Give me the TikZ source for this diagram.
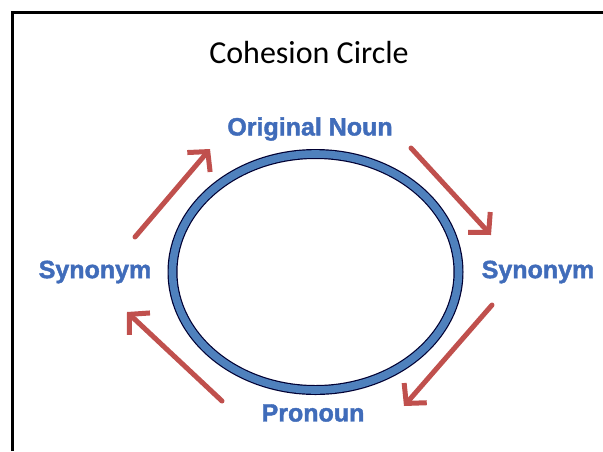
\documentclass[tikz,border=0pt]{standalone}
\usepackage{fontspec}
\setmainfont{Carlito}
\newfontfamily\labelfont[BoldFeatures={FakeBold=1.6}]{Liberation Sans}
\usetikzlibrary{arrows.meta}
\definecolor{ringblue}{RGB}{79,129,189}
\definecolor{labelblue}{RGB}{64,108,186}
\definecolor{arrowred}{RGB}{192,80,77}
\tikzset{
  term/.style={font=\labelfont\bfseries\fontsize{25}{25}\selectfont, text=labelblue, inner sep=0pt},
  flow/.style={draw=arrowred, line width=5pt, line cap=round,
    -{Straight Barb[length=14pt,width=30pt,line width=5pt]}},
}
\begin{document}
\begin{tikzpicture}[x=1pt,y=-1pt]
  \useasboundingbox (0,0) rectangle (603,451);
  \fill[white] (0,0) rectangle (603,451);
  % frame
  \draw[line width=3pt] (12,451) -- (12,12) -- (603,12);
  % title
  \node[font=\fontsize{32}{32}\selectfont, inner sep=0pt] (title) at (309,53) {Cohesion Circle};
  % ring
  \draw[line width=10pt, black!80!blue] (315.5,272) ellipse [x radius=143, y radius=118];
  \draw[line width=7.6pt, ringblue] (315.5,272) ellipse [x radius=143, y radius=118];
  % terms
  \node[term] (orig)  at (310,129) {Original Noun};
  \node[term] (synr)  at (538,272) {Synonym};
  \node[term] (pron)  at (313,413) {Pronoun};
  \node[term] (synl)  at (95,272)  {Synonym};
  % arrow ends
  \coordinate (a1s) at (135,237); \coordinate (a1e) at (210,149);
  \coordinate (a2s) at (411,148); \coordinate (a2e) at (491,235);
  \coordinate (a3s) at (492,305); \coordinate (a3e) at (404,406);
  \coordinate (a4s) at (222,401); \coordinate (a4e) at (127,312);
  \draw[flow] (a1s) -- (a1e);
  \draw[flow] (a2s) -- (a2e);
  \draw[flow] (a3s) -- (a3e);
  \draw[flow] (a4s) -- (a4e);
\end{tikzpicture}
\end{document}
